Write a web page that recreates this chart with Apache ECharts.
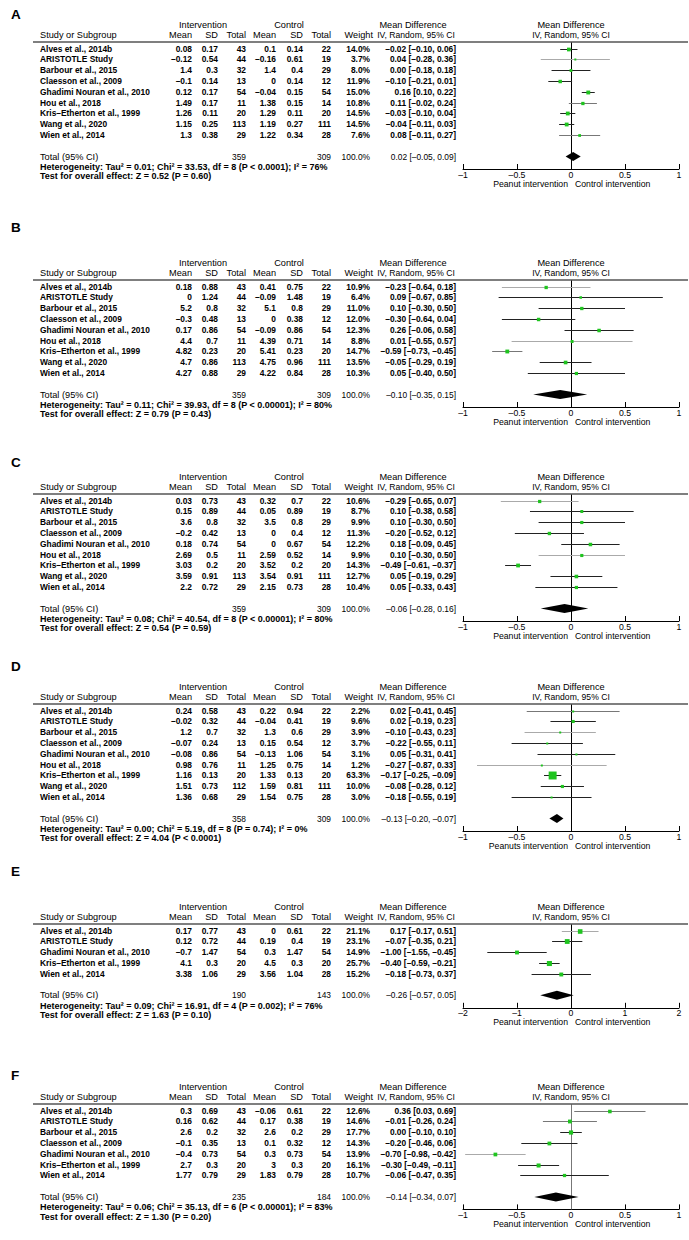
<!DOCTYPE html>
<html><head><meta charset="utf-8">
<script src="https://cdn.jsdelivr.net/npm/echarts@6/dist/echarts.min.js"></script>
<style>html,body{margin:0;padding:0;background:#fff}#c{width:689px;height:1240px}</style>
</head><body><div id="c"></div>
<script>
// ---------------- DATA ----------------
// Panel A
const studiesA = ["Alves et al., 2014b","ARISTOTLE Study","Barbour et al., 2015","Claesson et al., 2009","Ghadimi Nouran et al., 2010","Hou et al., 2018","Kris\u2013Etherton et al., 1999","Wang et al., 2020","Wien et al., 2014"];
const intMeanA = [0.08,-0.12,1.4,-0.1,0.12,1.49,1.26,1.15,1.3];
const intSDA   = [0.17,0.54,0.3,0.14,0.17,0.17,0.11,0.25,0.38];
const intNA    = [43,44,32,13,54,11,20,113,29];
const ctlMeanA = [0.1,-0.16,1.4,0,-0.04,1.38,1.29,1.19,1.22];
const ctlSDA   = [0.14,0.61,0.4,0.14,0.15,0.15,0.11,0.27,0.34];
const ctlNA    = [22,19,29,12,54,14,20,111,28];
const weightA  = [14.0,3.7,8.0,11.9,15.0,10.8,14.5,14.5,7.6];
const mdA      = [-0.02,0.04,0.00,-0.10,0.16,0.11,-0.03,-0.04,0.08];
const loA      = [-0.10,-0.28,-0.18,-0.21,0.10,-0.02,-0.10,-0.11,-0.11];
const hiA      = [0.06,0.36,0.18,0.01,0.22,0.24,0.04,0.03,0.27];
const totalNA  = [359,309];
const overallA = [0.02,-0.05,0.09];
const hetA  = "Heterogeneity: Tau\u00b2 = 0.01; Chi\u00b2 = 33.53, df = 8 (P < 0.0001); I\u00b2 = 76%";
const testA = "Test for overall effect: Z = 0.52 (P = 0.60)";
const favA  = ["Peanut intervention","Control intervention"];

// Panel B
const studiesB = studiesA;
const intMeanB = [0.18,0,5.2,-0.3,0.17,4.4,4.82,4.7,4.27];
const intSDB   = [0.88,1.24,0.8,0.48,0.86,0.7,0.23,0.86,0.88];
const intNB    = [43,44,32,13,54,11,20,113,29];
const ctlMeanB = [0.41,-0.09,5.1,0,-0.09,4.39,5.41,4.75,4.22];
const ctlSDB   = [0.75,1.48,0.8,0.38,0.86,0.71,0.23,0.96,0.84];
const ctlNB    = [22,19,29,12,54,14,20,111,28];
const weightB  = [10.9,6.4,11.0,12.0,12.3,8.8,14.7,13.5,10.3];
const mdB      = [-0.23,0.09,0.10,-0.30,0.26,0.01,-0.59,-0.05,0.05];
const loB      = [-0.64,-0.67,-0.30,-0.64,-0.06,-0.55,-0.73,-0.29,-0.40];
const hiB      = [0.18,0.85,0.50,0.04,0.58,0.57,-0.45,0.19,0.50];
const totalNB  = [359,309];
const overallB = [-0.10,-0.35,0.15];
const hetB  = "Heterogeneity: Tau\u00b2 = 0.11; Chi\u00b2 = 39.93, df = 8 (P < 0.00001); I\u00b2 = 80%";
const testB = "Test for overall effect: Z = 0.79 (P = 0.43)";
const favB  = ["Peanut intervention","Control intervention"];

// Panel C
const studiesC = studiesA;
const intMeanC = [0.03,0.15,3.6,-0.2,0.18,2.69,3.03,3.59,2.2];
const intSDC   = [0.73,0.89,0.8,0.42,0.74,0.5,0.2,0.91,0.72];
const intNC    = [43,44,32,13,54,11,20,113,29];
const ctlMeanC = [0.32,0.05,3.5,0,0,2.59,3.52,3.54,2.15];
const ctlSDC   = [0.7,0.89,0.8,0.4,0.67,0.52,0.2,0.91,0.73];
const ctlNC    = [22,19,29,12,54,14,20,111,28];
const weightC  = [10.6,8.7,9.9,11.3,12.2,9.9,14.3,12.7,10.4];
const mdC      = [-0.29,0.10,0.10,-0.20,0.18,0.10,-0.49,0.05,0.05];
const loC      = [-0.65,-0.38,-0.30,-0.52,-0.09,-0.30,-0.61,-0.19,-0.33];
const hiC      = [0.07,0.58,0.50,0.12,0.45,0.50,-0.37,0.29,0.43];
const totalNC  = [359,309];
const overallC = [-0.06,-0.28,0.16];
const hetC  = "Heterogeneity: Tau\u00b2 = 0.08; Chi\u00b2 = 40.54, df = 8 (P < 0.00001); I\u00b2 = 80%";
const testC = "Test for overall effect: Z = 0.54 (P = 0.59)";
const favC  = ["Peanut intervention","Control intervention"];

// Panel D
const studiesD = studiesA;
const intMeanD = [0.24,-0.02,1.2,-0.07,-0.08,0.98,1.16,1.51,1.36];
const intSDD   = [0.58,0.32,0.7,0.24,0.86,0.76,0.13,0.73,0.68];
const intND    = [43,44,32,13,54,11,20,112,29];
const ctlMeanD = [0.22,-0.04,1.3,0.15,-0.13,1.25,1.33,1.59,1.54];
const ctlSDD   = [0.94,0.41,0.6,0.54,1.06,0.75,0.13,0.81,0.75];
const ctlND    = [22,19,29,12,54,14,20,111,28];
const weightD  = [2.2,9.6,3.9,3.7,3.1,1.2,63.3,10.0,3.0];
const mdD      = [0.02,0.02,-0.10,-0.22,0.05,-0.27,-0.17,-0.08,-0.18];
const loD      = [-0.41,-0.19,-0.43,-0.55,-0.31,-0.87,-0.25,-0.28,-0.55];
const hiD      = [0.45,0.23,0.23,0.11,0.41,0.33,-0.09,0.12,0.19];
const totalND  = [358,309];
const overallD = [-0.13,-0.20,-0.07];
const hetD  = "Heterogeneity: Tau\u00b2 = 0.00; Chi\u00b2 = 5.19, df = 8 (P = 0.74); I\u00b2 = 0%";
const testD = "Test for overall effect: Z = 4.04 (P < 0.0001)";
const favD  = ["Peanuts intervention","Control intervention"];

// Panel E
const studiesE = ["Alves et al., 2014b","ARISTOTLE Study","Ghadimi Nouran et al., 2010","Kris\u2013Etherton et al., 1999","Wien et al., 2014"];
const intMeanE = [0.17,0.12,-0.7,4.1,3.38];
const intSDE   = [0.77,0.72,1.47,0.3,1.06];
const intNE    = [43,44,54,20,29];
const ctlMeanE = [0,0.19,0.3,4.5,3.56];
const ctlSDE   = [0.61,0.4,1.47,0.3,1.04];
const ctlNE    = [22,19,54,20,28];
const weightE  = [21.1,23.1,14.9,25.7,15.2];
const mdE      = [0.17,-0.07,-1.00,-0.40,-0.18];
const loE      = [-0.17,-0.35,-1.55,-0.59,-0.73];
const hiE      = [0.51,0.21,-0.45,-0.21,0.37];
const totalNE  = [190,143];
const overallE = [-0.26,-0.57,0.05];
const hetE  = "Heterogeneity: Tau\u00b2 = 0.09; Chi\u00b2 = 16.91, df = 4 (P = 0.002); I\u00b2 = 76%";
const testE = "Test for overall effect: Z = 1.63 (P = 0.10)";
const favE  = ["Peanut intervention","Control intervention"];

// Panel F
const studiesF = ["Alves et al., 2014b","ARISTOTLE Study","Barbour et al., 2015","Claesson et al., 2009","Ghadimi Nouran et al., 2010","Kris\u2013Etherton et al., 1999","Wien et al., 2014"];
const intMeanF = [0.3,0.16,2.6,-0.1,-0.4,2.7,1.77];
const intSDF   = [0.69,0.62,0.2,0.35,0.73,0.3,0.79];
const intNF    = [43,44,32,13,54,20,29];
const ctlMeanF = [-0.06,0.17,2.6,0.1,0.3,3,1.83];
const ctlSDF   = [0.61,0.38,0.2,0.32,0.73,0.3,0.79];
const ctlNF    = [22,19,29,12,54,20,28];
const weightF  = [12.6,14.6,17.7,14.3,13.9,16.1,10.7];
const mdF      = [0.36,-0.01,0.00,-0.20,-0.70,-0.30,-0.06];
const loF      = [0.03,-0.26,-0.10,-0.46,-0.98,-0.49,-0.47];
const hiF      = [0.69,0.24,0.10,0.06,-0.42,-0.11,0.35];
const totalNF  = [235,184];
const overallF = [-0.14,-0.34,0.07];
const hetF  = "Heterogeneity: Tau\u00b2 = 0.06; Chi\u00b2 = 35.13, df = 6 (P < 0.00001); I\u00b2 = 83%";
const testF = "Test for overall effect: Z = 1.30 (P = 0.20)";
const favF  = ["Peanut intervention","Control intervention"];

// Axis ticks
const ticksSmall = [-1,-0.5,0,0.5,1];
const ticksWide  = [-2,-1,0,1,2];

// ---------------- STYLE / LAYOUT ----------------
const shadeA = ['d','l','d','d','d','m','d','d','m'];
const shadeB = ['l','d','d','d','d','l','m','d','d'];
const shadeC = ['l','d','d','d','d','l','d','d','d'];
const shadeD = ['m','d','l','d','d','l','d','d','d'];
const shadeE = ['l','d','d','d','d'];
const shadeF = ['m','m','d','d','l','d','d'];
const SHADE = {d:'#222', m:'#777', l:'#aaa'};
const GREEN = '#1fc41f';
const S = 10.8;
const COL = {name:40, iMean:192, iSD:218, iN:246, cMean:276, cSD:303, cN:331, wt:370, ci:456, grpI:203, grpC:289, mdHead:416};
const FAM = '"Liberation Sans", Arial, sans-serif';
const FB = 'bold 8.4px ' + FAM;       // study rows
const FH = '9.2px ' + FAM;            // headers
const FI = '8.6px ' + FAM;            // "IV, Random, 95% CI"
const FN = '8.4px ' + FAM;            // numbers in total row
const FT = 'bold 9px ' + FAM;         // heterogeneity / test
const FL = '8.7px ' + FAM;            // favours labels

const LAYOUT = [
  {key:'A', T:42,   letterY:14,   ticks:ticksSmall, zero:'#000'},
  {key:'B', T:280,  letterY:227,  ticks:ticksSmall, zero:'#000'},
  {key:'C', T:494,  letterY:462,  ticks:ticksSmall, zero:'#000'},
  {key:'D', T:704,  letterY:666,  ticks:ticksSmall, zero:'#000'},
  {key:'E', T:924,  letterY:871,  ticks:ticksWide,  zero:'#000'},
  {key:'F', T:1104, letterY:1075, ticks:ticksSmall, zero:'#777'}
];

const DATA = {
  A:{studies:studiesA,iMean:intMeanA,iSD:intSDA,iN:intNA,cMean:ctlMeanA,cSD:ctlSDA,cN:ctlNA,w:weightA,md:mdA,lo:loA,hi:hiA,tot:totalNA,ov:overallA,het:hetA,test:testA,fav:favA,shade:shadeA},
  B:{studies:studiesB,iMean:intMeanB,iSD:intSDB,iN:intNB,cMean:ctlMeanB,cSD:ctlSDB,cN:ctlNB,w:weightB,md:mdB,lo:loB,hi:hiB,tot:totalNB,ov:overallB,het:hetB,test:testB,fav:favB,shade:shadeB},
  C:{studies:studiesC,iMean:intMeanC,iSD:intSDC,iN:intNC,cMean:ctlMeanC,cSD:ctlSDC,cN:ctlNC,w:weightC,md:mdC,lo:loC,hi:hiC,tot:totalNC,ov:overallC,het:hetC,test:testC,fav:favC,shade:shadeC},
  D:{studies:studiesD,iMean:intMeanD,iSD:intSDD,iN:intND,cMean:ctlMeanD,cSD:ctlSDD,cN:ctlND,w:weightD,md:mdD,lo:loD,hi:hiD,tot:totalND,ov:overallD,het:hetD,test:testD,fav:favD,shade:shadeD},
  E:{studies:studiesE,iMean:intMeanE,iSD:intSDE,iN:intNE,cMean:ctlMeanE,cSD:ctlSDE,cN:ctlNE,w:weightE,md:mdE,lo:loE,hi:hiE,tot:totalNE,ov:overallE,het:hetE,test:testE,fav:favE,shade:shadeE},
  F:{studies:studiesF,iMean:intMeanF,iSD:intSDF,iN:intNF,cMean:ctlMeanF,cSD:ctlSDF,cN:ctlNF,w:weightF,md:mdF,lo:loF,hi:hiF,tot:totalNF,ov:overallF,het:hetF,test:testF,fav:favF,shade:shadeF}
};

const MINUS = '\u2013';
function fv(v){ return v < 0 ? MINUS + String(Math.abs(v)) : String(v); }
function f2(v){ return v < 0 ? MINUS + Math.abs(v).toFixed(2) : v.toFixed(2); }
function ciText(m,l,h){ return f2(m) + ' [' + f2(l) + ', ' + f2(h) + ']'; }

function makeRender(L, d, yMin, yMax, totRow){
  return function(params, api){
    const row = api.value(1), kind = api.value(2), idx = api.value(3);
    const pt = api.coord([0, row]);
    const y = pt[1], x0 = pt[0];
    const ch = [];
    const txt = (t, x, align, font) => ch.push({type:'text', z2:3, silent:true,
      style:{text:t, x:x, y:y, align:align, verticalAlign:'middle', font:font, fill:'#000'}});
    if (kind === 0) {
      txt(d.studies[idx], COL.name, 'left', FB);
      txt(fv(d.iMean[idx]), COL.iMean, 'right', FB);
      txt(fv(d.iSD[idx]), COL.iSD, 'right', FB);
      txt(String(d.iN[idx]), COL.iN, 'right', FB);
      txt(fv(d.cMean[idx]), COL.cMean, 'right', FB);
      txt(fv(d.cSD[idx]), COL.cSD, 'right', FB);
      txt(String(d.cN[idx]), COL.cN, 'right', FB);
      txt(d.w[idx].toFixed(1) + '%', COL.wt, 'right', FB);
      txt(ciText(d.md[idx], d.lo[idx], d.hi[idx]), COL.ci, 'right', FB);
      const a = api.coord([d.lo[idx], row]), b = api.coord([d.hi[idx], row]), c = api.coord([d.md[idx], row]);
      const yy = Math.round(y) + 0.5;
      ch.push({type:'line', z2:1, shape:{x1:a[0], y1:yy, x2:b[0], y2:yy},
        style:{stroke:SHADE[d.shade[idx]], lineWidth:1}});
      const sz = Math.max(2, Math.sqrt(d.w[idx]));
      ch.push({type:'rect', z2:2, shape:{x:c[0]-sz/2, y:yy-sz/2, width:sz, height:sz}, style:{fill:GREEN}});
    } else if (kind === 1) {
      txt('Intervention', COL.grpI, 'center', FH);
      txt('Control', COL.grpC, 'center', FH);
      txt('Mean Difference', COL.mdHead - 3, 'center', FH);
      txt('Mean Difference', x0, 'center', FH);
      const p1 = api.coord([0, yMin]), p2 = api.coord([0, yMax]);
      const xx = Math.round(p1[0]) + 0.5;
      ch.push({type:'line', z2:0, shape:{x1:xx, y1:p1[1], x2:xx, y2:p2[1]}, style:{stroke:L.zero, lineWidth:1}});
    } else if (kind === 2) {
      txt('Study or Subgroup', COL.name, 'left', FH);
      txt('Mean', COL.iMean, 'right', FH);
      txt('SD', COL.iSD, 'right', FH);
      txt('Total', COL.iN, 'right', FH);
      txt('Mean', COL.cMean, 'right', FH);
      txt('SD', COL.cSD, 'right', FH);
      txt('Total', COL.cN, 'right', FH);
      txt('Weight', COL.wt + 3, 'right', FH);
      txt('IV, Random, 95% CI', COL.mdHead, 'center', FI);
      txt('IV, Random, 95% CI', x0, 'center', FI);
      const ly = api.coord([0, yMin])[1];
      ch.push({type:'line', z2:1, shape:{x1:33, y1:ly, x2:688, y2:ly}, style:{stroke:'#555', lineWidth:1.3}});
    } else if (kind === 3) {
      txt('Total (95% CI)', COL.name, 'left', FH);
      txt(String(d.tot[0]), COL.iN, 'right', FN);
      txt(String(d.tot[1]), COL.cN, 'right', FN);
      txt('100.0%', COL.wt, 'right', FN);
      txt(ciText(d.ov[0], d.ov[1], d.ov[2]), COL.ci, 'right', FN);
      const a = api.coord([d.ov[1], row]), m = api.coord([d.ov[0], row]), b = api.coord([d.ov[2], row]);
      ch.push({type:'polygon', z2:2, shape:{points:[[a[0], y], [m[0], y-4.5], [b[0], y], [m[0], y+4.5]]}, style:{fill:'#000'}});
    } else if (kind === 4) {
      txt(d.het, COL.name, 'left', FT);
    } else if (kind === 5) {
      txt(d.test, COL.name, 'left', FT);
    } else if (kind === 6) {
      txt(d.fav[0], x0 - 3, 'right', FL);
      txt(d.fav[1], x0 + 4, 'left', FL);
    }
    return {type:'group', children:ch};
  };
}

const grids = [], xAxes = [], yAxes = [], series = [], graphics = [];
LAYOUT.forEach((L, gi) => {
  const d = DATA[L.key];
  const n = d.studies.length;
  const totRow = n + 1;
  const yMin = -6.5 / S, yMax = totRow + 12.5 / S;
  const t = L.ticks;
  grids.push({left:463, width:216, top:L.T, height:(yMax - yMin) * S});
  xAxes.push({gridIndex:gi, type:'value', min:t[0], max:t[t.length-1], interval:t[1]-t[0], position:'bottom',
    axisLine:{show:true, onZero:false, lineStyle:{color:'#000', width:1}},
    axisTick:{show:true, inside:true, length:5, lineStyle:{color:'#000', width:1}},
    axisLabel:{show:true, margin:1, fontSize:8.7, fontFamily:'Liberation Sans', color:'#000',
      showMinLabel:true, showMaxLabel:true, formatter:v => fv(v)},
    splitLine:{show:false}});
  yAxes.push({gridIndex:gi, type:'value', inverse:true, min:yMin, max:yMax, show:false});
  const items = [];
  items.push([0, -2.18, 1, 0]);
  items.push([0, -1.25, 2, 0]);
  for (let i = 0; i < n; i++) items.push([0, i, 0, i]);
  items.push([0, totRow, 3, 0]);
  items.push([0, totRow + 0.98, 4, 0]);
  items.push([0, totRow + 1.85, 5, 0]);
  items.push([0, totRow + 2.5, 6, 0]);
  series.push({type:'custom', xAxisIndex:gi, yAxisIndex:gi, clip:false, silent:true,
    encode:{x:0, y:1}, data:items, renderItem:makeRender(L, d, yMin, yMax, totRow)});
  graphics.push({type:'text', left:11, top:L.letterY - 7,
    style:{text:L.key, font:'bold 13.5px ' + FAM, fill:'#000'}});
});

const chart = echarts.init(document.getElementById('c'), null, {renderer:'svg', width:689, height:1240});
chart.setOption({
  animation:false,
  backgroundColor:'#fff',
  grid:grids, xAxis:xAxes, yAxis:yAxes, series:series, graphic:graphics
});
</script></body></html>
